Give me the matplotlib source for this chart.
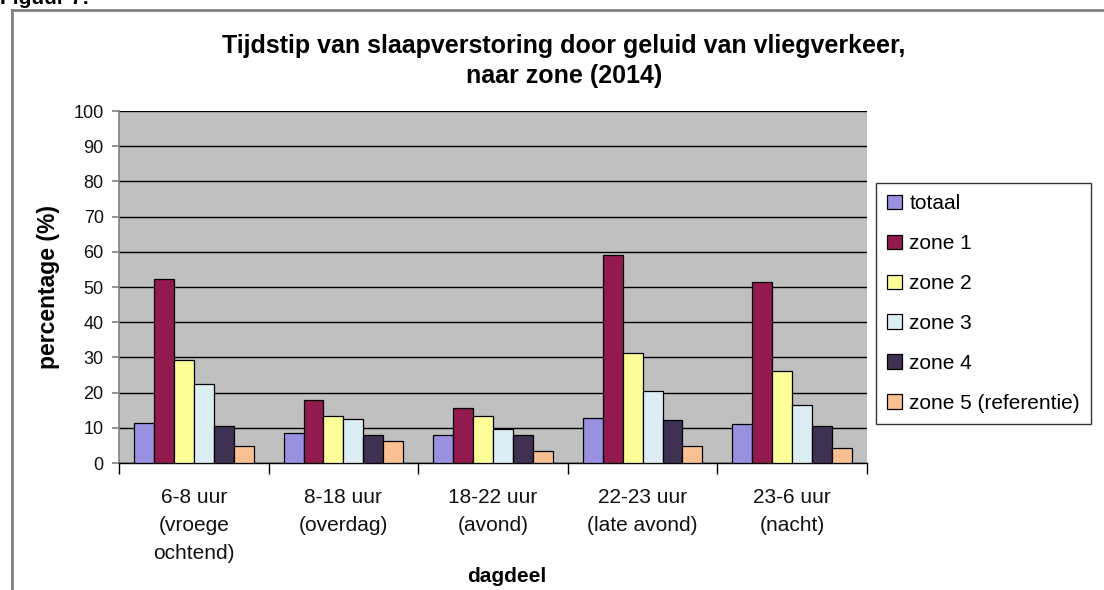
import matplotlib
matplotlib.use("Agg")
import matplotlib.pyplot as plt
from matplotlib.lines import Line2D
from matplotlib.patches import Patch
import numpy as np

plt.rcParams["font.family"] = ["Liberation Sans", "DejaVu Sans"]

categories = [
    "6-8 uur\n(vroege\nochtend)",
    "8-18 uur\n(overdag)",
    "18-22 uur\n(avond)",
    "22-23 uur\n(late avond)",
    "23-6 uur\n(nacht)",
]
series_names = ["totaal", "zone 1", "zone 2", "zone 3", "zone 4", "zone 5 (referentie)"]
totaal = [11.3, 8.4, 7.9, 12.9, 11.2]
zone1 = [52.3, 18.0, 15.5, 59.2, 51.5]
zone2 = [29.3, 13.4, 13.4, 31.2, 26.1]
zone3 = [22.5, 12.6, 9.7, 20.5, 16.6]
zone4 = [10.5, 8.0, 7.9, 12.3, 10.5]
zone5 = [4.7, 6.2, 3.3, 4.7, 4.4]
series_values = [totaal, zone1, zone2, zone3, zone4, zone5]
colors = ["#9990DF", "#931A4E", "#FFFF99", "#DCEEF3", "#3F3151", "#F9C191"]

fig = plt.figure(figsize=(11.04, 5.90), dpi=100)
ax = fig.add_axes([119 / 1104, 1 - 463 / 590, 748 / 1104, 352 / 590])
ax.set_facecolor("#C0C0C0")

x = np.arange(len(categories))
bar_w = 0.8 / len(series_names)
for i, (name, vals, col) in enumerate(zip(series_names, series_values, colors)):
    offs = (i - (len(series_names) - 1) / 2) * bar_w
    ax.bar(x + offs, vals, width=bar_w, color=col, edgecolor="black",
           linewidth=0.9, label=name, zorder=3)

ax.set_xlim(-0.5, len(categories) - 0.5)
ax.set_ylim(0, 100)
ax.set_yticks(np.arange(0, 101, 10))
ax.yaxis.grid(True, color="black", linewidth=1.0, zorder=1)
ax.set_axisbelow(True)

ax.set_xticks(x)
ax.set_xticklabels(categories, fontsize=15, linespacing=1.6, color="#111111")
ax.tick_params(axis="x", length=0, pad=18)
ax.set_xticks(np.arange(-0.5, len(categories)), minor=True)
ax.tick_params(axis="x", which="minor", length=8, width=1, color="black")
ax.tick_params(axis="y", labelsize=13, length=5, width=1.2, color="#808080",
               labelcolor="#111111", pad=6)

for side in ("top", "right"):
    ax.spines[side].set_visible(False)
ax.spines["left"].set_color("#808080")
ax.spines["left"].set_linewidth(1.2)
ax.spines["bottom"].set_color("black")
ax.spines["bottom"].set_linewidth(1.0)

ax.set_ylabel("percentage (%)", fontsize=16.5, fontweight="bold", labelpad=10)
fig.text(507 / 1104, 1 - 577 / 590, "dagdeel", fontsize=15, fontweight="bold",
         ha="center", va="center")

fig.text(564 / 1104, 1 - 61 / 590,
         "Tijdstip van slaapverstoring door geluid van vliegverkeer,\nnaar zone (2014)",
         fontsize=18, fontweight="bold", ha="center", va="center", linespacing=1.35)

fig.text(0.0, 1 - 4 / 590, "Figuur 7:", fontsize=15, fontweight="bold",
         ha="left", va="baseline")

handles = [Patch(facecolor=c, edgecolor="black", linewidth=0.9) for c in colors]
leg = fig.legend(handles, series_names, loc="upper left",
                 bbox_to_anchor=(876 / 1104, 1 - 183 / 590), fontsize=15,
                 frameon=True, fancybox=False, edgecolor="black",
                 handlelength=0.7, handleheight=0.7, handletextpad=0.35,
                 labelspacing=1.0, borderpad=0.55, borderaxespad=0)
leg.get_frame().set_linewidth(1.0)

fig.add_artist(Line2D([12 / 1104, 12 / 1104], [0, 1 - 10 / 590],
                      transform=fig.transFigure, color="#808080", linewidth=2))
fig.add_artist(Line2D([12 / 1104, 1], [1 - 10 / 590, 1 - 10 / 590],
                      transform=fig.transFigure, color="#808080", linewidth=2))

fig.savefig("out.png", dpi=100)
